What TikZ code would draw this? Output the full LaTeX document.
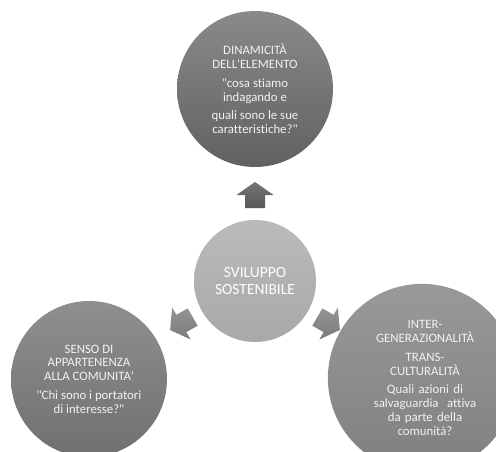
\documentclass[tikz,border=0pt]{standalone}
\usepackage{fontspec}
\setmainfont{Carlito}[Ligatures={TeXOff,NoCommon}]
\usetikzlibrary{calc}
\begin{document}
\begin{tikzpicture}[x=1pt,y=1pt,
  bigc/.style={circle, minimum size=156pt, inner sep=0pt, align=center,
    text=white!95!black, font=\fontsize{12.8}{13.8}\selectfont},
  midc/.style={circle, minimum size=122pt, inner sep=0pt, align=center,
    text=white, font=\fontsize{15.5}{16.5}\selectfont}]
\useasboundingbox (0,0) rectangle (496,451);
% centre circle
\node[midc, top color=black!27, bottom color=black!34] (mid) at (255,170)
  {SVILUPPO\\SOSTENIBILE};
% outer circles
\node[bigc, top color=black!46, bottom color=black!62] (top) at (255,362)
  {DINAMICIT\`A\\DELL'ELEMENTO\\[5pt]"cosa stiamo\\indagando e\\[5pt]quali sono le sue\\caratteristiche?"};
\node[bigc, top color=black!44, bottom color=black!56] (left) at (89,72)
  {SENSO DI\\APPARTENENZA\\ALLA COMUNITA'\\[5pt]"Chi sono i portatori\\di interesse?"};
\node[bigc, top color=black!40, bottom color=black!50, text width=150pt] (right) at (422,73)
  {\hspace*{6pt}INTER-\\\hspace*{6pt}GENERAZIONALIT\`A\\[5pt]\hspace*{6pt}TRANS-\\\hspace*{6pt}CULTURALIT\`A\\[5pt]\hspace*{6pt}Quali azioni di\\\hspace*{6pt}salvaguardia\ \ attiva\\\hspace*{6pt}da parte della\\\hspace*{6pt}comunit\`a?};
% block arrows
\coordinate (aup) at ($(mid)+(90:86)$);
\coordinate (aleft) at ($(mid)+(210:85)$);
\coordinate (aright) at ($(mid)+(-30:85)$);
\begin{scope}[shift={(aup)}]
  \shade[top color=black!55, bottom color=black!65]
    (0,13) -- (-18.5,0) -- (-10,0) -- (-10,-13) -- (10,-13) -- (10,0) -- (18.5,0) -- cycle;
\end{scope}
\begin{scope}[shift={(aleft)}, rotate=120]
  \shade[top color=black!42, bottom color=black!52]
    (0,13) -- (-18.5,0) -- (-10,0) -- (-10,-13) -- (10,-13) -- (10,0) -- (18.5,0) -- cycle;
\end{scope}
\begin{scope}[shift={(aright)}, rotate=-120]
  \shade[top color=black!42, bottom color=black!52]
    (0,13) -- (-18.5,0) -- (-10,0) -- (-10,-13) -- (10,-13) -- (10,0) -- (18.5,0) -- cycle;
\end{scope}
\end{tikzpicture}
\end{document}
